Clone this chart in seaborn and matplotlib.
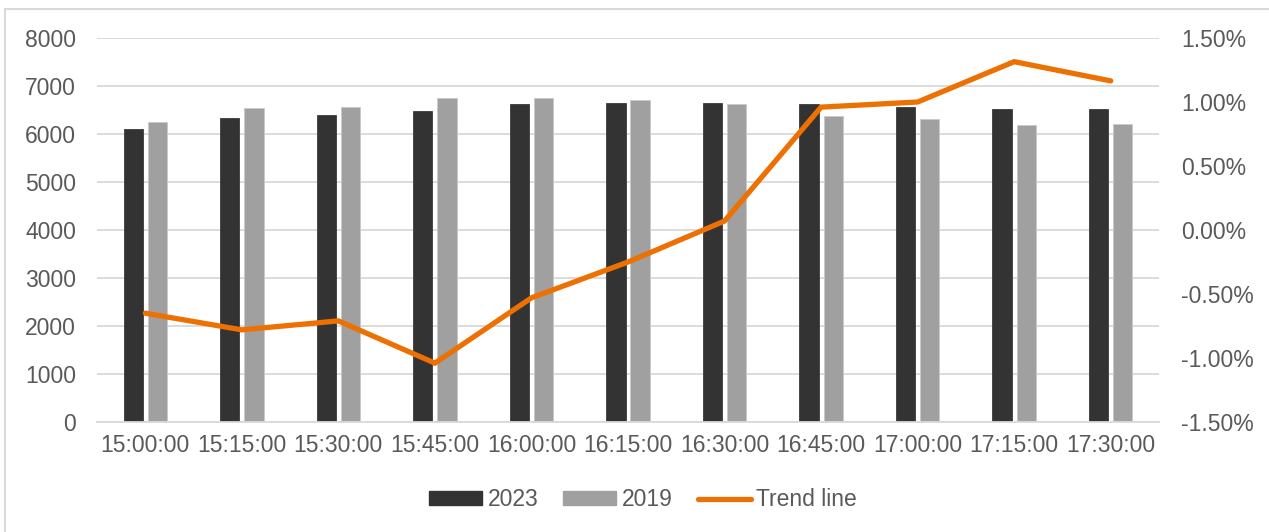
import numpy as np
import pandas as pd
import matplotlib
matplotlib.use("Agg")
import matplotlib.pyplot as plt
from matplotlib.patches import Patch, Rectangle
from matplotlib.lines import Line2D
import seaborn as sns

# ---- data ----
times = ["15:00:00", "15:15:00", "15:30:00", "15:45:00", "16:00:00", "16:15:00",
         "16:30:00", "16:45:00", "17:00:00", "17:15:00", "17:30:00"]
v2023 = [6100, 6330, 6390, 6480, 6620, 6650, 6650, 6625, 6570, 6515, 6515]
v2019 = [6250, 6535, 6570, 6756, 6756, 6708, 6625, 6370, 6313, 6190, 6215]
trend = [-0.65, -0.78, -0.71, -1.04, -0.53, -0.25, 0.07, 0.96, 1.00, 1.315, 1.165]  # percent
left_ticks = [0, 1000, 2000, 3000, 4000, 5000, 6000, 7000, 8000]
right_ticks = [-1.5, -1.0, -0.5, 0.0, 0.5, 1.0, 1.5]

c2023 = "#333333"
c2019 = "#a0a0a0"
corange = "#ED7102"
txt = "#595959"
grid = "#d9d9d9"

sns.set_theme(style="white")
plt.rcParams["font.family"] = ["Liberation Sans", "DejaVu Sans"]

fig = plt.figure(figsize=(12.69, 5.32), dpi=100)
ax = fig.add_axes([97/1269, 1-422/532, (1159-97)/1269, (422-38)/532])

df = pd.DataFrame({
    "time": times * 2,
    "value": v2023 + v2019,
    "year": ["2023"] * len(times) + ["2019"] * len(times),
})
sns.barplot(data=df, x="time", y="value", hue="year", order=times,
            hue_order=["2023", "2019"], palette=[c2023, c2019],
            width=0.5, gap=0.2, ax=ax, legend=False, saturation=1)
for p in ax.patches:
    p.set_edgecolor("#c8c8c8" if p.get_facecolor()[0] > 0.5 else "#3a3a3a")
    p.set_linewidth(0.6)

ax.set_ylim(0, 8000)
ax.set_yticks(left_ticks)
ax.set_yticklabels([str(t) for t in left_ticks])
ax.set_xlim(-0.5, len(times) - 0.5)
ax.set_xlabel("")
ax.set_ylabel("")
ax.yaxis.grid(True, color=grid, linewidth=1.3)
ax.set_axisbelow(True)
for s in ["top", "right", "left"]:
    ax.spines[s].set_visible(False)
ax.spines["bottom"].set_color(grid)
ax.spines["bottom"].set_linewidth(1.3)
ax.tick_params(axis="y", length=0, pad=15, labelsize=16.5, labelcolor=txt)
ax.tick_params(axis="x", length=0, pad=9, labelsize=16.5, labelcolor=txt)

ax2 = ax.twinx()
sns.lineplot(x=np.arange(len(times)), y=trend, ax=ax2, color=corange,
             linewidth=3.8, solid_capstyle="round", solid_joinstyle="miter")
ax2.set_ylim(-1.5, 1.5)
ax2.set_yticks(right_ticks)
ax2.set_yticklabels([f"{t:.2f}%" for t in right_ticks])
for s in ["top", "right", "left", "bottom"]:
    ax2.spines[s].set_visible(False)
ax2.tick_params(axis="y", length=0, pad=16, labelsize=16.5, labelcolor=txt)
ax2.grid(False)
ax2.set_xlim(-0.5, len(times) - 0.5)

handles = [Patch(facecolor=c2023, edgecolor=c2023),
           Patch(facecolor=c2019, edgecolor=c2019),
           Line2D([0], [0], color=corange, linewidth=3.8, solid_capstyle="round")]
leg = fig.legend(handles, ["2023", "2019", "Trend line"], loc="center",
                 bbox_to_anchor=(643/1269, 1-500/532), ncol=3, frameon=False,
                 fontsize=16.5, handlelength=2.3, handleheight=0.55,
                 handletextpad=0.25, columnspacing=1.1)
for t in leg.get_texts():
    t.set_color(txt)

fig.patches.append(Rectangle((5/1269, -0.1), 1.2, 1 - 9/532 + 0.1,
                             transform=fig.transFigure, fill=False,
                             edgecolor=grid, linewidth=1.5))

fig.savefig("out.png", dpi=100)
